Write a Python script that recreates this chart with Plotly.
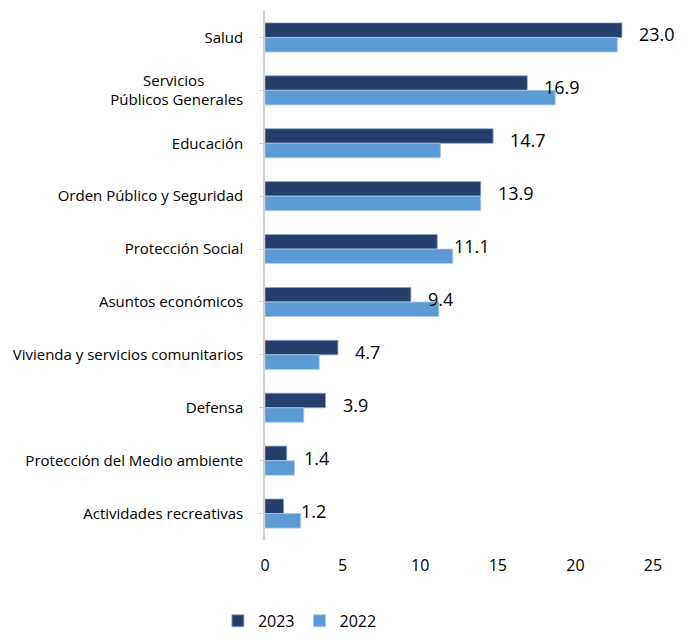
import plotly.graph_objects as go

categories = [
    "Salud",
    "Servicios\u00a0\u00a0\u00a0\u00a0\u00a0\u00a0\u00a0\u00a0\u00a0\u00a0<br>Públicos Generales",
    "Educación",
    "Orden Público y Seguridad",
    "Protección Social",
    "Asuntos económicos",
    "Vivienda y servicios comunitarios",
    "Defensa",
    "Protección del Medio ambiente",
    "Actividades recreativas",
]
values_2023 = [23.0, 16.9, 14.7, 13.9, 11.1, 9.4, 4.7, 3.9, 1.4, 1.2]
values_2022 = [22.7, 18.7, 11.3, 13.9, 12.1, 11.2, 3.5, 2.5, 1.9, 2.3]

font_family = "Open Sans, sans-serif"

fig = go.Figure()
fig.add_trace(go.Bar(
    name="2023", y=categories, x=values_2023, orientation="h",
    marker=dict(color="#243F6B", line=dict(color="#8EA4C4", width=0.8)),
))
fig.add_trace(go.Bar(
    name="2022", y=categories, x=values_2022, orientation="h",
    marker=dict(color="#5B9BD5", line=dict(color="#A9C9EA", width=0.8)),
))

for cat, v in zip(categories, values_2023):
    fig.add_annotation(
        x=v, y=cat, text=f"{v:.1f}", showarrow=False,
        xanchor="left", yanchor="middle", xshift=15, yshift=3,
        font=dict(family=font_family, size=18, color="#000000"),
    )

fig.update_layout(
    width=688, height=639,
    margin=dict(l=265, r=35, t=11, b=99, autoexpand=False),
    paper_bgcolor="white", plot_bgcolor="white",
    barmode="group", bargap=0.45, bargroupgap=0.0,
    font=dict(family=font_family, color="#000000"),
    legend=dict(
        orientation="h", x=0.09, y=-0.185, xanchor="center", yanchor="bottom",
        font=dict(family=font_family, size=16), itemwidth=30,
    ),
    xaxis=dict(
        range=[0, 25], dtick=5, showgrid=False, zeroline=False,
        showline=False, tickfont=dict(family=font_family, size=16),
        ticks="", ticklen=0, ticklabelstandoff=14,
    ),
    yaxis=dict(
        autorange="reversed", showgrid=False, zeroline=False,
        showline=True, linecolor="#D0D0D0", linewidth=1.5,
        ticks="outside", ticklen=4, tickcolor="#D0D0D0",
        tickfont=dict(family=font_family, size=15),
        ticklabelstandoff=13,
    ),
)

fig.write_html("out.html")
